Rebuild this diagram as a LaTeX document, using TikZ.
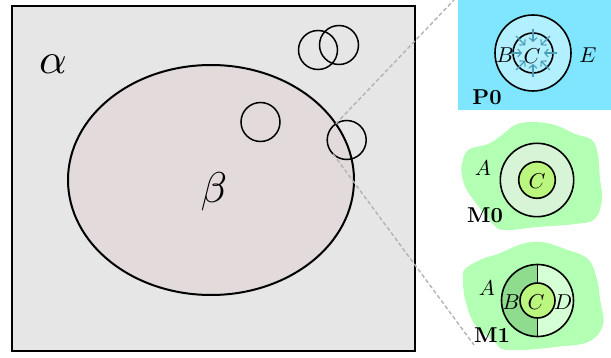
\documentclass[tikz,border=0pt]{standalone}
\usepackage{graphicx}
\usetikzlibrary{arrows.meta,calc}
\definecolor{rectgray}{HTML}{E6E6E6}
\definecolor{ellpink}{HTML}{E3DBDB}
\definecolor{pcyan}{HTML}{80E5FF}
\definecolor{plight}{HTML}{B3F0FF}
\definecolor{blobgreen}{HTML}{B3FFB3}
\definecolor{ringpale}{HTML}{D7F4D7}
\definecolor{coregreen}{HTML}{BBF77F}
\definecolor{halfdark}{HTML}{8FDC8F}
\definecolor{halflight}{HTML}{D5FFD5}
\definecolor{arrteal}{HTML}{4A9BB5}
\definecolor{dashgray}{HTML}{B3B3B3}
\newcommand{\labsymx}[1]{\scalebox{2.15}{$#1$}}
\newcommand{\hugesymx}[1]{\scalebox{4.3}{$#1$}}
\tikzset{
  smallcirc/.style={circle,draw,line width=1.5pt,minimum size=39pt,inner sep=0pt,outer sep=0pt},
  lbl/.style={inner sep=0pt},
  big/.style={inner sep=0pt},
  zoomline/.style={dashgray,dashed,dash pattern=on 4pt off 2.5pt,line width=1.4pt},
  ring/.style={draw,line width=1.6pt},
  inarrow/.style={arrteal,line width=1.1pt,-{Straight Barb[length=3.5pt,width=8pt]}}
}
\begin{document}
\begin{tikzpicture}[x=1pt,y=-1pt]
\useasboundingbox (0,0) rectangle (611,358);
% main region
\draw[line width=2pt,fill=rectgray] (12,6) rectangle (414.5,351);
\draw[line width=2pt,fill=ellpink] (211,180) ellipse [x radius=143, y radius=115];
\node[big] (alpha) at (53,64) {\hugesymx{\alpha}};
\node[big] (beta) at (214,192) {\hugesymx{\beta}};
\node[smallcirc] (c1) at (318,50) {};
\node[smallcirc] (c2) at (339,45) {};
\node[smallcirc] (c3) at (260.5,122) {};
\node[smallcirc] (c4) at (346.7,140) {};
% P0 panel
\fill[pcyan] (458,0) rectangle (611,110);
\draw[ring,fill=plight] (533,53) circle [radius=38];
\draw[ring,fill=plight] (533,53) circle [radius=20];
\foreach \a in {0,45,...,315}{
  \draw[inarrow] ($(533,53)+(\a:24)$) -- ($(533,53)+(\a:11)$);
}
\node[lbl] (pB) at (505,55) {\labsymx{B}};
\node[lbl] (pC) at (532,56) {\labsymx{C}};
\node[lbl] (pE) at (588,55) {\labsymx{E}};
\node[lbl] (p0) at (487,97) {\labsymx{\mathbf{P0}}};
% M0 panel
\fill[blobgreen] plot[smooth cycle,tension=0.6] coordinates {
 (462,164) (468,150) (488,144) (502,135) (515,125) (532,122) (555,125)
 (575,134) (592,140) (598,155) (600,179) (602,199) (595,219) (575,224)
 (538,227) (505,230) (493,224) (468,192) (462,175)};
\draw[ring,fill=ringpale] (537,180) circle [radius=36.7];
\draw[ring,fill=coregreen] (537,180) circle [radius=18.3];
\node[lbl] (mA) at (483,168) {\labsymx{A}};
\node[lbl] (mC) at (537,181) {\labsymx{C}};
\node[lbl] (m0) at (485,215) {\labsymx{\mathbf{M0}}};
% M1 panel
\fill[blobgreen] plot[smooth cycle,tension=0.6] coordinates {
 (465,269) (482,259) (498,254) (522,244) (542,242) (565,249) (588,259)
 (597,279) (600,299) (603,325) (588,342) (555,347) (522,350) (502,349)
 (495,342) (475,325) (465,299) (463,279)};
\fill[halfdark] (537.5,336.5) arc[start angle=90,end angle=270,radius=36] -- cycle;
\fill[halflight] (537.5,336.5) arc[start angle=90,end angle=-90,radius=36] -- cycle;
\draw[ring] (537.5,300.5) circle [radius=36];
\draw[line width=1.6pt] (537.5,264.5) -- (537.5,336.5);
\draw[ring,fill=coregreen] (537.5,300.5) circle [radius=17.5];
\node[lbl] (nA) at (487,288) {\labsymx{A}};
\node[lbl] (nB) at (511,302) {\labsymx{B}};
\node[lbl] (nC) at (536,302) {\labsymx{C}};
\node[lbl] (nD) at (563,302) {\labsymx{D}};
\node[lbl] (m1) at (492,335) {\labsymx{\mathbf{M1}}};
% zoom lines
\coordinate (ztop) at (454,0);
\coordinate (zbot) at (474,345);
\draw[zoomline] (c4.124) -- (ztop);
\draw[zoomline] (c4.226) -- (zbot);
\end{tikzpicture}
\end{document}
